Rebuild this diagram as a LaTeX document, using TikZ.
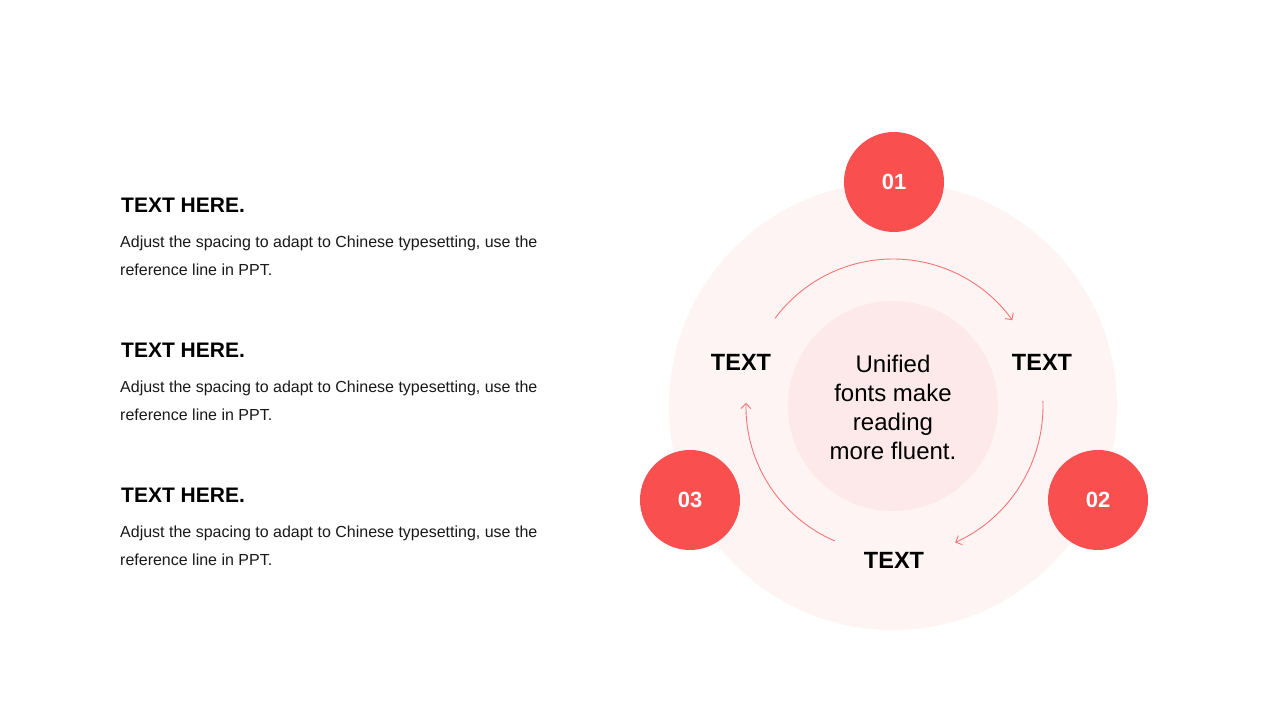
\documentclass[tikz,border=0pt]{standalone}
\usepackage{fontspec}
\setmainfont{Liberation Sans}
\usetikzlibrary{arrows.meta}
\definecolor{numred}{HTML}{F94F4F}
\definecolor{outerpink}{HTML}{FEF4F4}
\definecolor{innerpink}{HTML}{FDE9E9}
\definecolor{arrred}{HTML}{F77474}
\tikzset{
  numcircle/.style={circle, fill=numred, minimum size=100pt, inner sep=0pt,
    text=white, font=\fontsize{22}{26}\selectfont\bfseries},
  steplabel/.style={font=\fontsize{23.5}{28}\selectfont\bfseries, text=black},
  cyclearrow/.style={draw=arrred, line width=0.9pt, -{Straight Barb[length=5pt,width=10pt]}},
  heading/.style={anchor=base west, inner sep=0pt, font=\fontsize{21}{24}\selectfont\bfseries},
  bodytext/.style={anchor=base west, inner sep=0pt, align=left,
    font=\fontsize{16}{28}\selectfont, text=black!90}
}
\begin{document}
\begin{tikzpicture}[x=1pt,y=1pt]
\useasboundingbox (0,0) rectangle (1280,720);
\fill[white] (0,0) rectangle (1280,720);
\coordinate (C) at (893,314);
% background circles
\fill[outerpink] (C) circle[radius=224];
\fill[innerpink] (C) circle[radius=105];
% number circles
\node[numcircle] (n1) at (894,538) {01};
\node[numcircle] (n2) at (1098,220) {02};
\node[numcircle] (n3) at (690,220) {03};
% labels
\node[steplabel] (tl) at (741,358) {TEXT};
\node[steplabel] (tr) at (1042,358) {TEXT};
\node[steplabel] (tb) at (894,160) {TEXT};
\node[align=center, font=\fontsize{24}{29}\selectfont, text=black] (ctr) at (893,313) {Unified\\fonts make\\reading\\more fluent.};
% cycle arrows
\draw[cyclearrow] ([shift={(143.4:147)}]C) arc[start angle=143.4, end angle=35.7, radius=147];
\draw[cyclearrow] ([shift={(2:150)}]C) arc[start angle=2, end angle=-65.5, radius=150];
\draw[cyclearrow] ([shift={(246.7:147)}]C) arc[start angle=246.7, end angle=178.8, radius=147];
% left text blocks
\node[heading] (h1) at (121,507) {TEXT HERE.};
\node[bodytext] (b1) at (120,444) {Adjust the spacing to adapt to Chinese typesetting, use the\\reference line in PPT.};
\node[heading] (h2) at (121,362) {TEXT HERE.};
\node[bodytext] (b2) at (120,299) {Adjust the spacing to adapt to Chinese typesetting, use the\\reference line in PPT.};
\node[heading] (h3) at (121,217) {TEXT HERE.};
\node[bodytext] (b3) at (120,154) {Adjust the spacing to adapt to Chinese typesetting, use the\\reference line in PPT.};
\end{tikzpicture}
\end{document}
